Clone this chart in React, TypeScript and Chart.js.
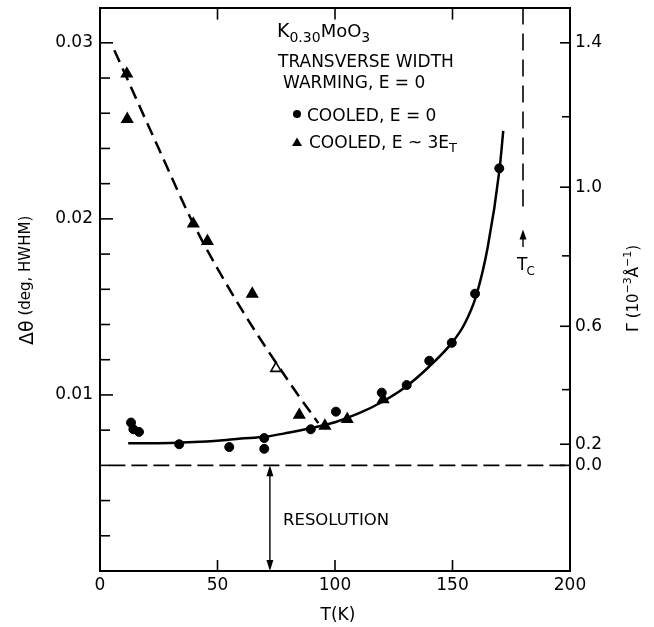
import { useEffect, useRef } from 'react';
import { Chart, registerables } from 'chart.js';

Chart.register(...registerables);

const FONT = '"DejaVu Sans", sans-serif';

// ---- data (T in K, Δθ in deg HWHM) ----
const fitSolidT = [12, 20, 30, 40, 50, 60, 70, 80, 90, 100, 110, 120, 130, 140, 150, 155, 160, 165, 170, 171.6];
const fitSolidW = [0.00725, 0.00725, 0.00727, 0.00732, 0.0074, 0.00752, 0.00762, 0.00785, 0.00812, 0.00845, 0.00895, 0.0096, 0.01045, 0.0116, 0.013, 0.014, 0.0156, 0.0184, 0.0228, 0.025];

const fitDashT = [6.1, 24.8, 39.7, 59.6, 82.3, 92.9];
const fitDashW = [0.02958, 0.02405, 0.01973, 0.015, 0.01038, 0.0084];

const circleT = [13.2, 14.2, 16.6, 33.7, 55.0, 69.9, 69.9, 89.7, 100.4, 119.9, 130.5, 140.1, 149.7, 159.6, 169.9];
const circleW = [0.00843, 0.00805, 0.0079, 0.0072, 0.00704, 0.00755, 0.00694, 0.00805, 0.00905, 0.01013, 0.01056, 0.01194, 0.01296, 0.01575, 0.02287];

const triT = [11.4, 11.6, 39.7, 45.7, 64.8, 74.9, 84.8, 95.7, 105.2, 120.5];
const triW = [0.02824, 0.02566, 0.01972, 0.01873, 0.01574, 0.01151, 0.00886, 0.00824, 0.00862, 0.00975];
const triOpen = [false, false, false, false, false, true, false, false, false, false];

const resolutionW = 0.006;
const resolutionT = [4, 200];
const resArrowT = 72.3;

const tcT = 180;
const tcLineW = [0.032, 0.0203];
const tcArrowTipW = 0.0194;
const tcArrowEndW = 0.0184;

// ---- axes ----
const xTicks = [0, 50, 100, 150, 200];
const xInnerTicks = [50, 100, 150];
const yMajorTicks = [0.01, 0.02, 0.03];
const yMajorLabels = ['0.01', '0.02', '0.03'];
const yMinorTicks = [0.002, 0.004, 0.006, 0.008, 0.012, 0.014, 0.016, 0.018, 0.022, 0.024, 0.026, 0.028];
const gammaTickPos = [0.006, 0.0072, 0.0103, 0.0139, 0.0179, 0.0218, 0.0258, 0.03];
const gammaTickLabels = ['0.0', '0.2', '', '0.6', '', '1.0', '', '1.4'];

const noPad = (s: any) => {
  s.paddingTop = 0;
  s.paddingBottom = 0;
  s.paddingLeft = 0;
  s.paddingRight = 0;
};

export default function App() {
  const ref = useRef<HTMLCanvasElement>(null);

  useEffect(() => {
    const canvas = ref.current!;

    const overlay = {
      id: 'overlay',
      afterDraw(chart: any) {
        const ctx = chart.ctx as CanvasRenderingContext2D;
        const xs = chart.scales.x;
        const ys = chart.scales.y;
        const area = chart.chartArea;
        ctx.save();
        ctx.strokeStyle = '#000';
        ctx.fillStyle = '#000';
        ctx.lineWidth = 1.6;
        const line = (x1: number, y1: number, x2: number, y2: number) => {
          ctx.beginPath();
          ctx.moveTo(x1, y1);
          ctx.lineTo(x2, y2);
          ctx.stroke();
        };
        // inward ticks
        for (const v of yMajorTicks) { const y = ys.getPixelForValue(v); line(area.left, y, area.left + 13, y); }
        for (const v of yMinorTicks) { const y = ys.getPixelForValue(v); line(area.left, y, area.left + 10, y); }
        gammaTickPos.forEach((v, i) => {
          const y = ys.getPixelForValue(v);
          const len = gammaTickLabels[i] ? 10 : 8;
          line(area.right, y, area.right - len, y);
        });
        for (const v of xInnerTicks) {
          const x = xs.getPixelForValue(v);
          line(x, area.bottom, x, area.bottom - 11);
          line(x, area.top, x, area.top + 12);
        }

        const txt = (s: string, x: number, y: number, size: number, align: CanvasTextAlign = 'left') => {
          ctx.font = `${size}px ${FONT}`;
          ctx.textAlign = align;
          ctx.textBaseline = 'alphabetic';
          ctx.fillText(s, x, y);
          return ctx.measureText(s).width;
        };

        // title block
        let x = 277;
        x += txt('K', x, 37, 19);
        x += txt('0.30', x, 42, 14);
        x += txt('MoO', x, 37, 18);
        txt('3', x, 42, 14);
        txt('TRANSVERSE WIDTH', 278, 67, 17);
        txt('WARMING, E = 0', 283, 88, 17);
        ctx.beginPath();
        ctx.arc(297, 114, 4, 0, Math.PI * 2);
        ctx.fill();
        txt('COOLED, E = 0', 307, 121, 17);
        ctx.beginPath();
        ctx.moveTo(297, 137.5);
        ctx.lineTo(302, 146);
        ctx.lineTo(292, 146);
        ctx.closePath();
        ctx.fill();
        x = 309 + txt('COOLED, E ~ 3E', 309, 148, 17);
        txt('T', x, 152, 13);

        // resolution
        txt('RESOLUTION', 283, 525, 16.5);
        const rx = xs.getPixelForValue(resArrowT);
        const ry1 = ys.getPixelForValue(resolutionW);
        const ry2 = ys.getPixelForValue(0);
        ctx.lineWidth = 1.4;
        line(rx, ry1 + 6, rx, ry2 - 6);
        ctx.beginPath();
        ctx.moveTo(rx, ry1); ctx.lineTo(rx - 3.5, ry1 + 11); ctx.lineTo(rx + 3.5, ry1 + 11); ctx.closePath(); ctx.fill();
        ctx.beginPath();
        ctx.moveTo(rx, ry2); ctx.lineTo(rx - 3.5, ry2 - 11); ctx.lineTo(rx + 3.5, ry2 - 11); ctx.closePath(); ctx.fill();

        // Tc arrow
        const tx = xs.getPixelForValue(tcT);
        const tip = ys.getPixelForValue(tcArrowTipW);
        const tend = ys.getPixelForValue(tcArrowEndW);
        line(tx, tip + 6, tx, tend);
        ctx.beginPath();
        ctx.moveTo(tx, tip); ctx.lineTo(tx - 3.5, tip + 10); ctx.lineTo(tx + 3.5, tip + 10); ctx.closePath(); ctx.fill();
        const tw = txt('T', tx - 6, 270, 17);
        txt('C', tx - 6 + tw - 1, 275, 12);

        // x title
        txt('T(K)', 338, 620, 17, 'center');

        // left title
        ctx.save();
        ctx.translate(33, 345);
        ctx.rotate(-Math.PI / 2);
        const w1 = txt('Δθ', 0, 0, 19);
        txt(' (deg, HWHM)', w1, -3, 15);
        ctx.restore();

        // right title
        ctx.save();
        ctx.translate(638, 332);
        ctx.rotate(-Math.PI / 2);
        let u = 0;
        u += txt('Γ', u, 0, 16);
        u += txt(' (10', u, 0, 15);
        u += txt('−3', u, -7, 11);
        u += txt('Å', u, 0, 15);
        u += txt('−1', u, -7, 11);
        txt(')', u, 0, 15);
        ctx.restore();

        ctx.restore();
      },
    };

    const tickFont = { family: FONT, size: 17 };
    const border = { display: true, color: '#000', width: 2 };

    const chart = new Chart(canvas, {
      type: 'scatter',
      data: {
        datasets: [
          {
            data: fitSolidT.map((t, i) => ({ x: t, y: fitSolidW[i] })),
            showLine: true,
            borderColor: '#000',
            borderWidth: 2.5,
            pointRadius: 0,
            cubicInterpolationMode: 'monotone',
            order: 5,
          },
          {
            data: fitDashT.map((t, i) => ({ x: t, y: fitDashW[i] })),
            showLine: true,
            borderColor: '#000',
            borderWidth: 2.5,
            borderDash: [13, 7],
            pointRadius: 0,
            cubicInterpolationMode: 'monotone',
            order: 5,
          },
          {
            data: resolutionT.map((t) => ({ x: t, y: resolutionW })),
            showLine: true,
            borderColor: '#000',
            borderWidth: 1.6,
            borderDash: [16, 6],
            pointRadius: 0,
            order: 6,
          },
          {
            data: tcLineW.map((w) => ({ x: tcT, y: w })),
            showLine: true,
            borderColor: '#000',
            borderWidth: 1.6,
            borderDash: [17, 9],
            pointRadius: 0,
            order: 6,
          },
          {
            data: circleT.map((t, i) => ({ x: t, y: circleW[i] })),
            pointStyle: 'circle',
            pointRadius: 4.5,
            backgroundColor: '#000',
            borderColor: '#000',
            borderWidth: 1,
            order: 1,
          },
          {
            data: triT.map((t, i) => ({ x: t, y: triW[i] })),
            pointStyle: 'triangle',
            pointRadius: 6,
            pointBackgroundColor: triOpen.map((o) => (o ? '#fff' : '#000')),
            pointBorderColor: '#000',
            pointBorderWidth: 1.6,
            order: 1,
          },
        ] as any,
      },
      options: {
        responsive: false,
        animation: false,
        devicePixelRatio: 1,
        layout: { padding: 0 },
        plugins: { legend: { display: false }, tooltip: { enabled: false } },
        scales: {
          x: {
            type: 'linear',
            position: 'bottom',
            min: 0,
            max: 200,
            afterBuildTicks: (s: any) => { s.ticks = xTicks.map((v) => ({ value: v })); },
            ticks: { font: tickFont, color: '#000', padding: 4, maxRotation: 0, autoSkip: false },
            grid: { display: false, drawTicks: false },
            border,
            afterFit: (s: any) => { s.height = 56; noPad(s); },
          },
          xTop: {
            type: 'linear',
            position: 'top',
            min: 0,
            max: 200,
            ticks: { display: false },
            grid: { display: false, drawTicks: false },
            border,
            afterFit: (s: any) => { s.height = 5; noPad(s); },
          },
          y: {
            type: 'linear',
            position: 'left',
            min: 0,
            max: 0.032,
            afterBuildTicks: (s: any) => { s.ticks = yMajorTicks.map((v) => ({ value: v })); },
            ticks: {
              font: tickFont,
              color: '#000',
              padding: 7,
              autoSkip: false,
              callback: (_v: any, i: number) => yMajorLabels[i],
            },
            grid: { display: false, drawTicks: false },
            border,
            afterFit: (s: any) => { s.width = 100; noPad(s); },
          },
          yR: {
            type: 'linear',
            position: 'right',
            min: 0,
            max: 0.032,
            afterBuildTicks: (s: any) => { s.ticks = gammaTickPos.map((v) => ({ value: v })); },
            ticks: {
              font: tickFont,
              color: '#000',
              padding: 5,
              autoSkip: false,
              callback: (_v: any, i: number) => gammaTickLabels[i],
            },
            grid: { display: false, drawTicks: false },
            border,
            afterFit: (s: any) => { s.width = 84; noPad(s); },
          },
        } as any,
      },
      plugins: [overlay],
    });

    return () => chart.destroy();
  }, []);

  return (
    <div style={{ position: 'fixed', left: 0, top: 0, width: 654, height: 627, background: '#fff' }}>
      <canvas ref={ref} width={654} height={627} style={{ display: 'block', width: 654, height: 627 }} />
    </div>
  );
}
